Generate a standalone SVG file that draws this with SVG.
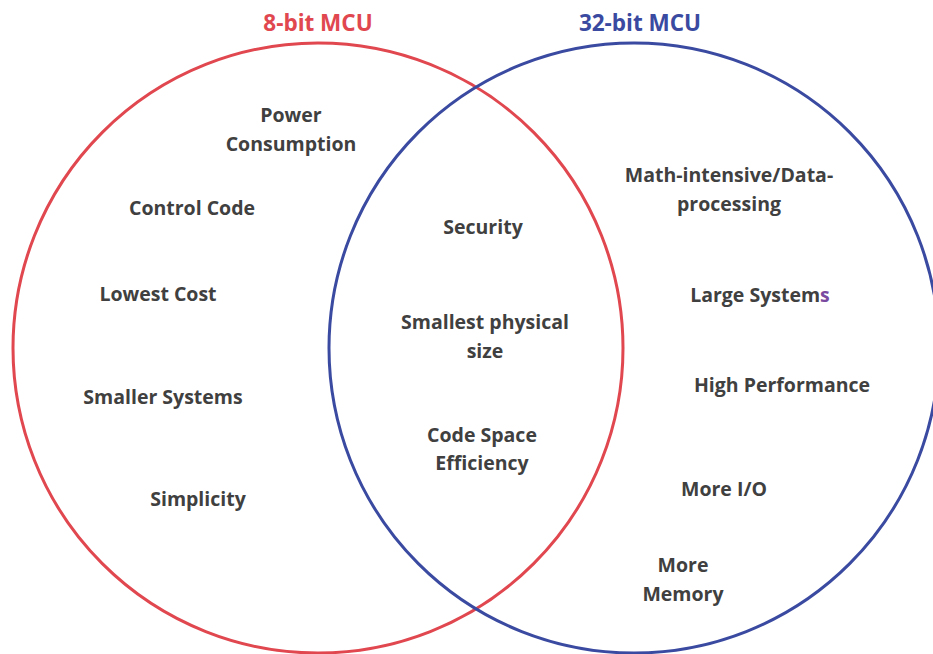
<svg xmlns="http://www.w3.org/2000/svg" width="933" height="654" viewBox="0 0 933 654">
<style>
.t{font-family:"Open Sans","Noto Sans","Liberation Sans",sans-serif;font-weight:bold;font-size:19.5px;fill:#404040;text-anchor:middle}
.h{font-family:"Open Sans","Noto Sans","Liberation Sans",sans-serif;font-weight:bold;font-size:22.5px;text-anchor:middle}
.c{fill:none;stroke-width:3}
</style>
<rect width="933" height="654" fill="#ffffff"/>
<g id="set-8bit">
<circle class="c" cx="318" cy="348" r="305" stroke="#e0474f"/>
<text class="h" x="318" y="31" fill="#e0474f">8-bit MCU</text>
</g>
<g id="set-32bit">
<circle class="c" cx="634" cy="348" r="305" stroke="#3a4aa0"/>
<text class="h" x="640" y="31" fill="#3a4aa0">32-bit MCU</text>
</g>
<g id="n-power"><text class="t" x="291" y="122">Power</text><text class="t" x="291" y="151">Consumption</text></g>
<g id="n-control"><text class="t" x="192" y="215">Control Code</text></g>
<g id="n-lowest"><text class="t" x="158" y="301">Lowest Cost</text></g>
<g id="n-smaller"><text class="t" x="163" y="404">Smaller Systems</text></g>
<g id="n-simplicity"><text class="t" x="198" y="506">Simplicity</text></g>
<g id="n-security"><text class="t" x="483" y="234">Security</text></g>
<g id="n-smallest"><text class="t" x="485" y="329">Smallest physical</text><text class="t" x="485" y="358">size</text></g>
<g id="n-codespace"><text class="t" x="482" y="442">Code Space</text><text class="t" x="482" y="470">Efficiency</text></g>
<g id="n-math"><text class="t" x="729" y="182">Math-intensive/Data-</text><text class="t" x="729" y="211">processing</text></g>
<g id="n-large"><text class="t" x="760" y="302">Large System<tspan fill="#7a4aa0">s</tspan></text></g>
<g id="n-high"><text class="t" x="782" y="392">High Performance</text></g>
<g id="n-io"><text class="t" x="724" y="496">More I/O</text></g>
<g id="n-memory"><text class="t" x="683" y="572">More</text><text class="t" x="683" y="601">Memory</text></g>
<g id="connectors"></g>
</svg>
